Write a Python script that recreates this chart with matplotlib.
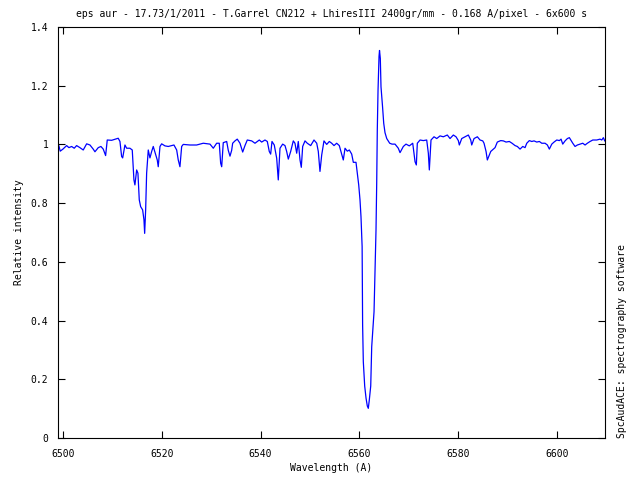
import matplotlib
matplotlib.use('Agg')
import matplotlib.pyplot as plt

# spectrum (wavelength in A, relative intensity)
wavelength = [
    6499.19, 6499.45, 6500.00, 6500.75, 6501.21, 6501.76, 6502.29, 6502.77, 6503.44, 6504.11,
    6504.80, 6505.47, 6506.13, 6506.48, 6507.15, 6507.69, 6508.16, 6508.64, 6508.97, 6509.86,
    6511.19, 6511.54, 6511.88, 6512.09, 6512.55, 6512.89, 6513.56, 6514.03, 6514.37, 6514.57,
    6514.92, 6515.18, 6515.45, 6515.73, 6516.13, 6516.40, 6516.54, 6516.74, 6516.94, 6517.27,
    6517.61, 6517.96, 6518.28, 6518.68, 6519.09, 6519.29, 6519.64, 6519.98, 6520.65, 6521.32,
    6522.47, 6523.02, 6523.34, 6523.68, 6524.03, 6524.35, 6525.71, 6527.06, 6528.40, 6529.76,
    6530.43, 6531.11, 6531.64, 6531.92, 6532.13, 6532.45, 6533.14, 6533.46, 6533.81, 6534.15,
    6534.35, 6534.82, 6535.28, 6535.83, 6536.38, 6536.84, 6537.31, 6538.20, 6538.87, 6539.74,
    6540.22, 6540.89, 6541.36, 6541.76, 6542.04, 6542.31, 6542.77, 6543.26, 6543.58, 6543.93,
    6544.47, 6544.94, 6545.28, 6545.61, 6546.09, 6546.62, 6546.96, 6547.31, 6547.63, 6547.98,
    6548.24, 6548.52, 6548.99, 6549.45, 6550.14, 6550.81, 6551.36, 6551.68, 6552.02, 6552.37,
    6552.83, 6553.38, 6553.91, 6554.39, 6554.86, 6555.40, 6555.93, 6556.42, 6556.74, 6557.09,
    6557.55, 6557.96, 6558.44, 6558.77, 6559.31, 6559.66, 6559.86, 6560.12, 6560.32, 6560.55,
    6560.65, 6560.79, 6561.07, 6561.34, 6561.60, 6561.80, 6562.00, 6562.29, 6562.49, 6562.69,
    6562.96, 6563.16, 6563.36, 6563.50, 6563.62, 6563.77, 6563.97, 6564.07, 6564.23, 6564.37,
    6564.68, 6564.92, 6565.18, 6565.53, 6566.13, 6566.60, 6567.21, 6567.87, 6568.22, 6568.89,
    6569.43, 6570.10, 6570.79, 6571.26, 6571.52, 6571.72, 6572.27, 6572.94, 6573.62, 6573.95,
    6574.15, 6574.49, 6575.10, 6575.65, 6576.32, 6576.98, 6577.79, 6578.34, 6579.01, 6579.55,
    6580.02, 6580.22, 6580.71, 6581.38, 6582.05, 6582.53, 6582.73, 6583.20, 6583.87, 6584.41,
    6584.96, 6585.22, 6585.63, 6585.89, 6586.17, 6586.58, 6587.11, 6587.45, 6587.91, 6588.60,
    6589.13, 6589.68, 6590.34, 6590.89, 6591.50, 6591.96, 6592.51, 6593.06, 6593.52, 6593.87,
    6594.39, 6594.88, 6595.34, 6595.89, 6596.42, 6596.90, 6597.57, 6598.04, 6598.44, 6598.93,
    6599.39, 6599.94, 6600.47, 6600.81, 6601.15, 6601.62, 6602.09, 6602.49, 6602.77, 6603.18,
    6603.64, 6604.11, 6604.66, 6605.20, 6605.67, 6606.13, 6606.68, 6607.23, 6608.04, 6608.70,
    6609.05, 6609.37, 6609.65,
]
intensity = [
    0.995, 0.977, 0.984, 0.996, 0.989, 0.993, 0.987, 0.996, 0.989, 0.981,
    1.002, 0.998, 0.984, 0.975, 0.989, 0.993, 0.984, 0.962, 1.015, 1.014,
    1.021, 1.010, 0.959, 0.954, 0.998, 0.987, 0.987, 0.981, 0.879, 0.862,
    0.913, 0.902, 0.811, 0.788, 0.777, 0.743, 0.697, 0.777, 0.902, 0.981,
    0.954, 0.976, 0.993, 0.970, 0.947, 0.924, 0.993, 1.002, 0.995, 0.993,
    0.998, 0.981, 0.947, 0.924, 0.993, 1.000, 0.998, 0.998, 1.004, 1.001,
    0.987, 1.004, 1.004, 0.936, 0.924, 1.006, 1.010, 0.980, 0.960, 0.980,
    1.004, 1.012, 1.018, 1.004, 0.974, 0.996, 1.015, 1.012, 1.004, 1.015,
    1.008, 1.015, 1.010, 0.976, 0.967, 1.010, 0.998, 0.953, 0.879, 0.987,
    1.001, 0.996, 0.976, 0.950, 0.976, 1.012, 1.004, 0.970, 1.010, 0.947,
    0.922, 0.993, 1.012, 1.004, 0.996, 1.015, 1.004, 0.976, 0.908, 0.964,
    1.012, 1.000, 1.010, 1.004, 0.996, 1.004, 0.996, 0.967, 0.947, 0.987,
    0.977, 0.981, 0.967, 0.939, 0.939, 0.890, 0.862, 0.811, 0.754, 0.652,
    0.385, 0.260, 0.177, 0.136, 0.109, 0.101, 0.129, 0.177, 0.311, 0.362,
    0.430, 0.572, 0.708, 0.868, 1.049, 1.185, 1.300, 1.320, 1.293, 1.196,
    1.129, 1.072, 1.040, 1.020, 1.004, 1.001, 1.001, 0.987, 0.972, 0.993,
    1.001, 0.995, 1.004, 0.941, 0.930, 1.004, 1.015, 1.013, 1.015, 0.970,
    0.913, 1.015, 1.026, 1.020, 1.029, 1.026, 1.032, 1.020, 1.032, 1.026,
    1.013, 0.998, 1.020, 1.026, 1.032, 1.015, 0.998, 1.020, 1.026, 1.015,
    1.012, 1.004, 0.976, 0.947, 0.959, 0.976, 0.984, 0.989, 1.008, 1.013,
    1.012, 1.008, 1.010, 1.004, 0.996, 0.993, 0.984, 0.993, 0.989, 1.004,
    1.013, 1.010, 1.012, 1.008, 1.010, 1.004, 1.004, 0.998, 0.984, 1.001,
    1.008, 1.015, 1.013, 1.018, 1.001, 1.012, 1.020, 1.023, 1.015, 1.004,
    0.993, 0.998, 1.001, 1.004, 0.998, 1.004, 1.010, 1.015, 1.015, 1.018,
    1.015, 1.023, 1.012,
]

x_ticks = [6500, 6520, 6540, 6560, 6580, 6600]
y_ticks = [0, 0.2, 0.4, 0.6, 0.8, 1, 1.2, 1.4]
y_tick_labels = ['0', '0.2', '0.4', '0.6', '0.8', '1', '1.2', '1.4']

TITLE = 'eps aur - 17.73/1/2011 - T.Garrel CN212 + LhiresIII 2400gr/mm - 0.168 A/pixel - 6x600 s'

plt.rcParams['font.family'] = ['DejaVu Sans Mono']
plt.rcParams['font.size'] = 7

fig = plt.figure(figsize=(6.4, 4.8), dpi=100)
ax = fig.add_axes([0.0906, 0.0875, 0.8547, 0.8563])

ax.plot(wavelength, intensity, color='#0000ff', linewidth=0.9)

ax.set_xlim(6499.0, 6609.7)
ax.set_ylim(0, 1.4)
ax.set_xticks(x_ticks)
ax.set_yticks(y_ticks)
ax.set_yticklabels(y_tick_labels)
ax.tick_params(direction='in', length=5, width=0.8, top=True, right=True)
ax.tick_params(axis='x', pad=8)
ax.tick_params(axis='y', pad=7)
for spine in ax.spines.values():
    spine.set_linewidth(0.8)

ax.set_title(TITLE, fontsize=7, pad=7)
ax.set_xlabel('Wavelength (A)', labelpad=3)
ax.set_ylabel('Relative intensity', labelpad=5)
fig.text(0.972, 0.0875, 'SpcAudACE: spectrography software', rotation=90,
         ha='center', va='bottom', fontsize=7)

fig.savefig('out.png', dpi=100)
plt.close(fig)
